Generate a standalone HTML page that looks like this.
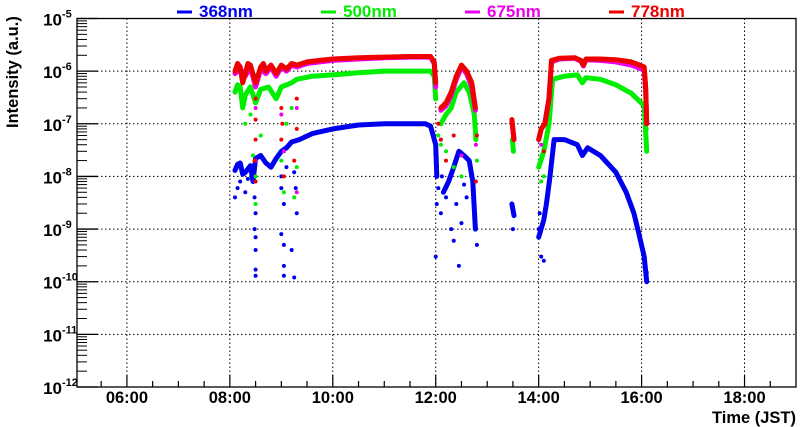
<!DOCTYPE html>
<html><head><meta charset="utf-8"><style>
html,body{margin:0;padding:0;background:#fff;}
svg{display:block;font-family:"Liberation Sans",sans-serif;font-weight:bold;}
</style></head><body>
<svg id="chart" width="800" height="427" viewBox="0 0 800 427" xmlns="http://www.w3.org/2000/svg"></svg>
<script>
// ---- data (time in hours JST, intensity a.u.) ----
const xTicks = [6, 8, 10, 12, 14, 16, 18];
const xTickLabels = ["06:00","08:00","10:00","12:00","14:00","16:00","18:00"];
const yDecades = [-12,-11,-10,-9,-8,-7,-6,-5];
const seriesNames = ["368nm","500nm","675nm","778nm"];
const seriesColors = ["#0000ee","#00ee00","#ee00ee","#ee0000"];

const blueBand = [
 [[8.1,1.3e-8],[8.15,1.7e-8],[8.2,1.8e-8],[8.25,1.1e-8],[8.3,1.2e-8],[8.4,1.6e-8],[8.45,8e-9],[8.5,2.2e-8],[8.6,2.5e-8],[8.7,1.8e-8],[8.8,1.5e-8],[8.9,2.2e-8],[9.0,3e-8],[9.1,3.5e-8],[9.2,4.5e-8],[9.35,5e-8],[9.6,6.5e-8],[10,8e-8],[10.5,9.5e-8],[11,1.0e-7],[11.8,1.0e-7],[11.9,9e-8],[12.0,4e-8],[12.02,1e-8]],
 [[12.15,5e-9],[12.25,8e-9],[12.35,1.5e-8],[12.45,3e-8],[12.55,2.5e-8],[12.65,2e-8],[12.72,8e-9],[12.77,1e-9]],
 [[13.48,3e-9],[13.52,1.8e-9]],
 [[14.0,7e-10],[14.1,1.5e-9],[14.15,3e-9],[14.22,1e-8],[14.3,5e-8],[14.5,5e-8],[14.75,4e-8],[14.85,2.5e-8],[14.95,3.5e-8],[15.2,2.5e-8],[15.5,1.2e-8],[15.7,5e-9],[15.85,2e-9],[15.95,8e-10],[16.05,3e-10],[16.1,1e-10]]
];
const greenBand = [
 [[8.1,4e-7],[8.15,5.5e-7],[8.2,5e-7],[8.25,2e-7],[8.3,3.5e-7],[8.4,5e-7],[8.5,2.5e-7],[8.6,4.5e-7],[8.75,5e-7],[8.9,3e-7],[9.0,5e-7],[9.2,6e-7],[9.3,7e-7],[9.6,8e-7],[10,8.5e-7],[10.5,9.3e-7],[11,1.0e-6],[11.9,1.0e-6],[11.97,8e-7],[12.0,3e-7]],
 [[12.1,1e-7],[12.2,1.5e-7],[12.3,2e-7],[12.4,4e-7],[12.55,6e-7],[12.65,4e-7],[12.75,1.5e-7],[12.78,5e-8]],
 [[13.49,5e-8],[13.51,3e-8]],
 [[14.0,1.5e-8],[14.1,3e-8],[14.2,1e-7],[14.27,7e-7],[14.5,8e-7],[14.75,8.5e-7],[14.85,6e-7],[14.92,7.5e-7],[15.2,7e-7],[15.5,5.5e-7],[15.8,3.8e-7],[16.05,2.2e-7],[16.1,3e-8]]
];
const magentaBand = [
 [[8.1,9e-7],[8.2,1.1e-6],[8.3,8e-7],[8.4,1.2e-6],[8.5,5e-7],[8.6,1.1e-6],[8.7,9e-7],[8.8,1.2e-6],[8.9,8e-7],[9.0,1.2e-6],[9.1,1.0e-6],[9.2,1.3e-6],[9.3,1.2e-6],[9.5,1.4e-6],[9.75,1.5e-6],[10,1.6e-6],[10.5,1.7e-6],[11,1.8e-6],[11.5,1.85e-6],[11.9,1.85e-6],[11.97,1.4e-6],[12.0,5e-7]],
 [[12.1,1.8e-7],[12.2,2.2e-7],[12.3,3.5e-7],[12.4,7e-7],[12.5,1.2e-6],[12.6,9e-7],[12.7,5e-7],[12.77,1.8e-7]],
 [[13.48,1.1e-7],[13.52,5e-8]],
 [[14.0,5e-8],[14.05,8e-8],[14.12,1e-7],[14.2,3e-7],[14.25,1.5e-6],[14.4,1.7e-6],[14.7,1.75e-6],[14.82,1.55e-6],[14.87,1.25e-6],[14.92,1.65e-6],[15.2,1.6e-6],[15.5,1.5e-6],[15.8,1.3e-6],[16.05,1.05e-6],[16.08,4e-7],[16.1,1e-7]]
];
const redBand = [
 [[8.1,1.0e-6],[8.15,1.4e-6],[8.2,1.2e-6],[8.25,6e-7],[8.3,9e-7],[8.35,1.4e-6],[8.4,1.3e-6],[8.5,6e-7],[8.6,1.2e-6],[8.65,1.4e-6],[8.7,1.0e-6],[8.8,1.3e-6],[8.9,9e-7],[9.0,1.3e-6],[9.1,1.1e-6],[9.2,1.4e-6],[9.3,1.3e-6],[9.5,1.5e-6],[9.75,1.6e-6],[10,1.7e-6],[10.5,1.8e-6],[11,1.85e-6],[11.5,1.9e-6],[11.9,1.9e-6],[11.97,1.5e-6],[12.0,6e-7]],
 [[12.1,2e-7],[12.2,2.5e-7],[12.3,4e-7],[12.4,8e-7],[12.5,1.3e-6],[12.6,1.0e-6],[12.7,6e-7],[12.77,2e-7]],
 [[13.48,1.2e-7],[13.5,8e-8],[13.52,5e-8]],
 [[14.0,5e-8],[14.05,8e-8],[14.12,1e-7],[14.2,3e-7],[14.25,1.6e-6],[14.4,1.75e-6],[14.7,1.8e-6],[14.82,1.6e-6],[14.87,1.3e-6],[14.92,1.7e-6],[15.2,1.7e-6],[15.5,1.65e-6],[15.8,1.5e-6],[16.05,1.2e-6],[16.08,5e-7],[16.1,1e-7]]
];
const blueScatter = [[8.5,1.3e-10],[8.5,1.7e-10],[8.5,4e-10],[8.48,1e-9],[8.5,7e-10],[8.5,2e-9],[8.48,4e-9],[8.1,4e-9],[8.15,6e-9],[8.2,8e-9],[8.3,5e-9],[8.35,9e-9],[9.05,1.3e-10],[9.05,2e-10],[9.05,5e-10],[9.0,8e-10],[9.25,1.2e-10],[9.2,4e-10],[9.3,2e-9],[9.05,3e-9],[9.0,6e-9],[9.28,6e-9],[9.25,1.2e-8],[9.0,1e-8],[9.1,1.5e-8],[12.0,3e-10],[12.02,3e-9],[12.05,6e-9],[12.1,2e-9],[12.12,1e-8],[12.2,4e-9],[12.3,1e-9],[12.35,6e-10],[12.4,3e-9],[12.45,2e-10],[12.5,1.3e-9],[12.55,7e-9],[12.6,4e-9],[12.8,5e-10],[13.5,1e-9],[14.0,1e-9],[14.02,2e-9],[14.05,3e-10],[14.1,2.5e-10],[16.1,1.5e-10]];
const greenScatter = [[8.3,1e-7],[8.4,1.5e-7],[8.5,1e-8],[8.5,3e-9],[8.45,2.5e-8],[8.6,6e-8],[9.0,2e-8],[9.05,5e-9],[9.1,1e-7],[9.3,1.5e-8],[9.25,4e-9],[9.2,2e-7],[12.05,6e-8],[12.1,4e-8],[12.2,3e-8],[12.35,1.5e-8],[12.5,1e-8],[12.8,2e-8],[14.05,8e-9],[14.1,1e-8],[16.1,8e-8],[16.1,4e-8]];
const magentaScatter = [[8.5,2e-7],[8.5,2e-8],[9.0,1.5e-7],[9.05,3e-8],[9.3,5e-9],[9.3,2e-7],[12.1,5e-8],[12.5,2.5e-8],[12.78,4e-8],[14.05,4e-8],[16.1,1.5e-7]];
const redScatter = [[8.5,3e-7],[8.5,1.2e-7],[8.5,5e-8],[8.5,8e-9],[8.48,2e-8],[9.0,2e-7],[9.0,5e-8],[9.02,1e-7],[9.05,1e-8],[9.3,3e-7],[9.3,8e-8],[9.25,2e-8],[12.05,1e-7],[12.1,5e-8],[12.2,2e-8],[12.35,6e-8],[12.8,6e-8],[12.78,8e-9],[14.1,3e-8],[16.1,2e-7]];

// ---- layout ----
const L=77,R=796,T=18.5,B=387;
const X0=5.03,X1=19.0;
const sx = h => L + (h - X0) / (X1 - X0) * (R - L);
const sy = v => T + (-5 - Math.log10(v)) / 7 * (B - T);
const NS="http://www.w3.org/2000/svg";
const svg=document.getElementById('chart');
function mk(tag, attrs, parent){const e=document.createElementNS(NS,tag);for(const k in attrs)e.setAttribute(k,attrs[k]);(parent||svg).appendChild(e);return e;}

// grid
const grid=mk('g',{});


xTicks.forEach(h=>{const x=sx(h);mk('line',{x1:x,x2:x,y1:T,y2:B,stroke:'#000','stroke-width':1,'stroke-dasharray':'1.5,2.5'},grid);});
yDecades.slice(1,-1).forEach(d=>{const y=sy(Math.pow(10,d));mk('line',{x1:L,x2:R,y1:y,y2:y,stroke:'#000','stroke-width':1,'stroke-dasharray':'1.5,2.5'},grid);});

// series
const bands=[blueBand,greenBand,magentaBand,redBand];
const scatters=[blueScatter,greenScatter,magentaScatter,redScatter];
[0,1,2,3].forEach(i=>{
  const g=mk('g',{});
  
  
  bands[i].forEach(seg=>{
    const pts=seg.map(p=>sx(p[0]).toFixed(1)+','+sy(p[1]).toFixed(1)).join(' ');
    const pl=mk('polyline',{points:pts,fill:'none',stroke:seriesColors[i],'stroke-width':5,'stroke-linejoin':'round','stroke-linecap':'round'},g);
    
    
    seg.forEach(p=>{const c=mk('circle',{cx:sx(p[0]),cy:sy(p[1]),r:2.2,fill:seriesColors[i]},g);
      
      });
  });
  scatters[i].forEach(p=>{const c=mk('circle',{cx:sx(p[0]),cy:sy(p[1]),r:2,fill:seriesColors[i]},g);
    
    });
});

// frame
const fr=mk('rect',{x:L,y:T,width:R-L,height:B-T,fill:'none',stroke:'#000','stroke-width':1.3});



// y ticks & labels
const ya=mk('g',{});


yDecades.forEach((d,k)=>{
  const y=sy(Math.pow(10,d));
  mk('line',{x1:L,x2:L+21,y1:y,y2:y,stroke:'#000','stroke-width':1.3},ya);
  if(k<yDecades.length-1){for(let m=2;m<=9;m++){const yy=sy(m*Math.pow(10,d));mk('line',{x1:L,x2:L+10,y1:yy,y2:yy,stroke:'#000','stroke-width':1},ya);}}
  const t=mk('text',{x:62,y:y+7,'text-anchor':'end','font-size':17,fill:'#000'},ya);
  t.textContent='10';
  const s=mk('text',{x:62,y:y-1,'font-size':11,fill:'#000'},ya);
  s.textContent=String(d);
  
  
});
const yt=mk('text',{x:0,y:0,transform:'translate(18,128) rotate(-90)','font-size':16.5,fill:'#000'});
yt.textContent='Intensity (a.u.)';



// x ticks & labels
const xa=mk('g',{});


for(let h=5.5;h<19;h+=0.5){const x=sx(h);const major=Math.abs(h-Math.round(h))<1e-6&&Math.round(h)%2===0;
  mk('line',{x1:x,x2:x,y1:B,y2:B-(major?12:6),stroke:'#000','stroke-width':1.2},xa);}
xTicks.forEach((h,k)=>{const t=mk('text',{x:sx(h),y:403,'text-anchor':'middle','font-size':16.5,fill:'#000'},xa);
  t.textContent=xTickLabels[k];
  
  });
const xt=mk('text',{x:796,y:423,'text-anchor':'end','font-size':16.5,fill:'#000'});
xt.textContent='Time (JST)';



// legend
const lg=mk('g',{});


const legX=[177,321,465,609];
seriesNames.forEach((n,i)=>{
  const e=mk('g',{},lg);
  
  
  mk('line',{x1:legX[i],x2:legX[i]+15,y1:12,y2:12,stroke:seriesColors[i],'stroke-width':3},e);
  const t=mk('text',{x:legX[i]+22,y:17,'font-size':17,fill:seriesColors[i]},e);
  t.textContent=n;
});
</script>
</body></html>
